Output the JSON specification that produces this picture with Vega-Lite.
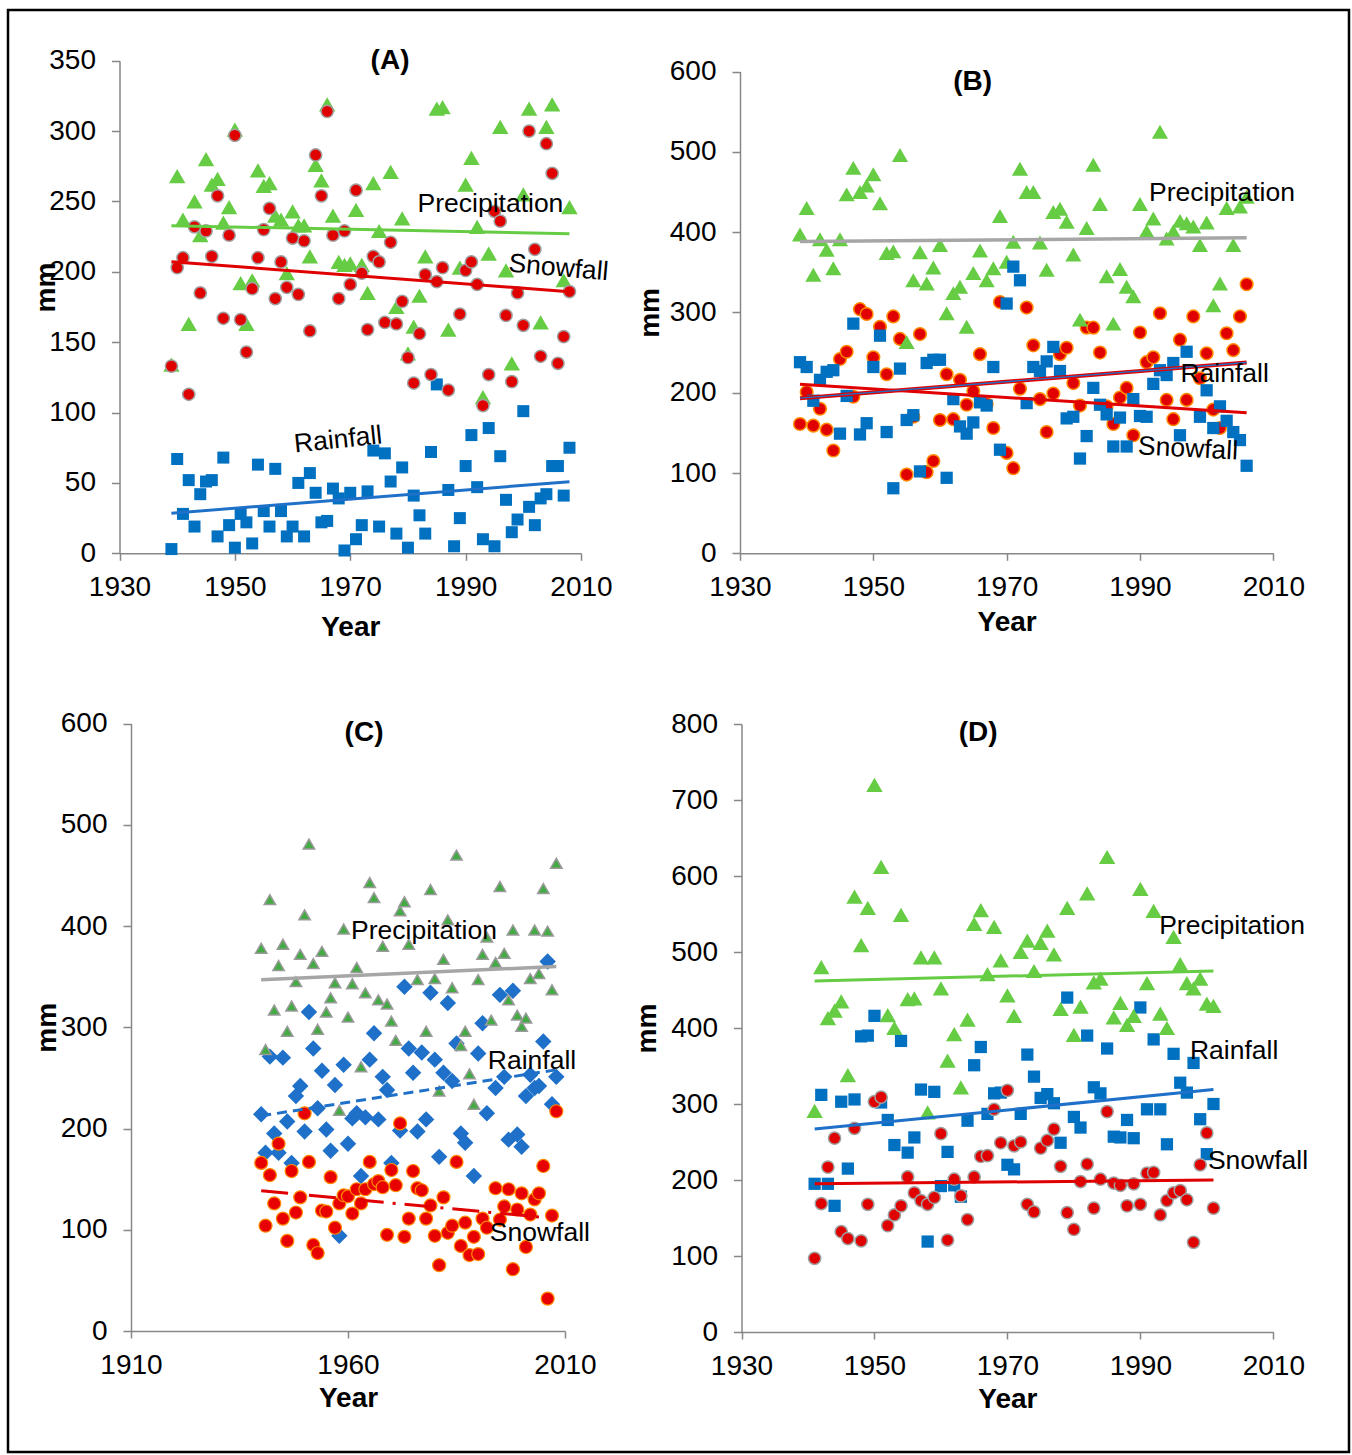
{
"$schema": "https://vega.github.io/schema/vega-lite/v6.json",
"width": 1341, "height": 1442,
"autosize": {"type": "none"},
"padding": {"left": 8, "top": 10, "right": 3, "bottom": 3},
"background": "white",
"config": {
 "font": "Liberation Sans",
 "view": {"stroke": "black", "strokeWidth": 2.5},
 "axis": {"grid": false, "domainColor": "#878787", "domainWidth": 1.5, "tickColor": "#878787", "tickWidth": 1.5, "labelFontSize": 28, "labelColor": "#000000", "labelFlush": false, "labelOverlap": false, "titleFontSize": 28, "titleFontWeight": "bold", "titleColor": "#000000"},
 "axisX": {"tickSize": 7, "labelPadding": 13},
 "axisY": {"tickSize": 8, "labelPadding": 16}
},
"datasets": {
 "A_P": [{"year":1939,"mm":134},{"year":1940,"mm":268},{"year":1941,"mm":237},{"year":1942,"mm":163},{"year":1943,"mm":250},{"year":1944,"mm":226},{"year":1945,"mm":280},{"year":1946,"mm":262},{"year":1947,"mm":266},{"year":1948,"mm":235},{"year":1949,"mm":246},{"year":1950,"mm":301},{"year":1951,"mm":192},{"year":1952,"mm":163},{"year":1953,"mm":194},{"year":1954,"mm":272},{"year":1955,"mm":261},{"year":1956,"mm":263},{"year":1957,"mm":240},{"year":1958,"mm":237},{"year":1959,"mm":199},{"year":1960,"mm":243},{"year":1961,"mm":233},{"year":1962,"mm":233},{"year":1963,"mm":211},{"year":1964,"mm":276},{"year":1965,"mm":265},{"year":1966,"mm":319},{"year":1967,"mm":240},{"year":1968,"mm":207},{"year":1969,"mm":205},{"year":1970,"mm":206},{"year":1971,"mm":244},{"year":1972,"mm":205},{"year":1973,"mm":185},{"year":1974,"mm":263},{"year":1975,"mm":229},{"year":1977,"mm":271},{"year":1978,"mm":175},{"year":1979,"mm":238},{"year":1980,"mm":142},{"year":1981,"mm":161},{"year":1982,"mm":183},{"year":1983,"mm":211},{"year":1985,"mm":316},{"year":1986,"mm":317},{"year":1987,"mm":159},{"year":1989,"mm":203},{"year":1990,"mm":262},{"year":1991,"mm":281},{"year":1992,"mm":232},{"year":1993,"mm":111},{"year":1994,"mm":213},{"year":1996,"mm":303},{"year":1997,"mm":201},{"year":1998,"mm":135},{"year":2000,"mm":255},{"year":2001,"mm":316},{"year":2003,"mm":164},{"year":2004,"mm":303},{"year":2005,"mm":319},{"year":2007,"mm":194},{"year":2008,"mm":246}],
 "A_S": [{"year":1939,"mm":133},{"year":1940,"mm":203},{"year":1941,"mm":210},{"year":1942,"mm":113},{"year":1943,"mm":232},{"year":1944,"mm":185},{"year":1945,"mm":229},{"year":1946,"mm":211},{"year":1947,"mm":254},{"year":1948,"mm":167},{"year":1949,"mm":226},{"year":1950,"mm":297},{"year":1951,"mm":166},{"year":1952,"mm":143},{"year":1953,"mm":188},{"year":1954,"mm":210},{"year":1955,"mm":230},{"year":1956,"mm":245},{"year":1957,"mm":181},{"year":1958,"mm":207},{"year":1959,"mm":189},{"year":1960,"mm":224},{"year":1961,"mm":184},{"year":1962,"mm":222},{"year":1963,"mm":158},{"year":1964,"mm":283},{"year":1965,"mm":254},{"year":1966,"mm":314},{"year":1967,"mm":226},{"year":1968,"mm":181},{"year":1969,"mm":229},{"year":1970,"mm":191},{"year":1971,"mm":258},{"year":1972,"mm":199},{"year":1973,"mm":159},{"year":1974,"mm":211},{"year":1975,"mm":207},{"year":1976,"mm":164},{"year":1977,"mm":221},{"year":1978,"mm":163},{"year":1979,"mm":179},{"year":1980,"mm":139},{"year":1981,"mm":121},{"year":1982,"mm":156},{"year":1983,"mm":198},{"year":1984,"mm":127},{"year":1985,"mm":193},{"year":1986,"mm":203},{"year":1987,"mm":116},{"year":1989,"mm":170},{"year":1990,"mm":201},{"year":1991,"mm":207},{"year":1992,"mm":191},{"year":1993,"mm":105},{"year":1994,"mm":127},{"year":1995,"mm":243},{"year":1996,"mm":236},{"year":1997,"mm":169},{"year":1998,"mm":122},{"year":1999,"mm":185},{"year":2000,"mm":162},{"year":2001,"mm":300},{"year":2002,"mm":216},{"year":2003,"mm":140},{"year":2004,"mm":291},{"year":2005,"mm":270},{"year":2006,"mm":135},{"year":2007,"mm":154},{"year":2008,"mm":186}],
 "A_R": [{"year":1939,"mm":3},{"year":1940,"mm":67},{"year":1941,"mm":28},{"year":1942,"mm":52},{"year":1943,"mm":19},{"year":1944,"mm":42},{"year":1945,"mm":51},{"year":1946,"mm":52},{"year":1947,"mm":12},{"year":1948,"mm":68},{"year":1949,"mm":20},{"year":1950,"mm":4},{"year":1951,"mm":28},{"year":1952,"mm":22},{"year":1953,"mm":7},{"year":1954,"mm":63},{"year":1955,"mm":30},{"year":1956,"mm":19},{"year":1957,"mm":60},{"year":1958,"mm":30},{"year":1959,"mm":12},{"year":1960,"mm":19},{"year":1961,"mm":50},{"year":1962,"mm":12},{"year":1963,"mm":57},{"year":1964,"mm":43},{"year":1965,"mm":22},{"year":1966,"mm":23},{"year":1967,"mm":46},{"year":1968,"mm":39},{"year":1969,"mm":2},{"year":1970,"mm":43},{"year":1971,"mm":10},{"year":1972,"mm":20},{"year":1973,"mm":44},{"year":1974,"mm":73},{"year":1975,"mm":19},{"year":1976,"mm":71},{"year":1977,"mm":51},{"year":1978,"mm":14},{"year":1979,"mm":61},{"year":1980,"mm":4},{"year":1981,"mm":41},{"year":1982,"mm":27},{"year":1983,"mm":14},{"year":1984,"mm":72},{"year":1985,"mm":120},{"year":1987,"mm":45},{"year":1988,"mm":5},{"year":1989,"mm":25},{"year":1990,"mm":62},{"year":1991,"mm":84},{"year":1992,"mm":47},{"year":1993,"mm":10},{"year":1994,"mm":89},{"year":1995,"mm":5},{"year":1996,"mm":69},{"year":1997,"mm":38},{"year":1998,"mm":15},{"year":1999,"mm":24},{"year":2000,"mm":101},{"year":2001,"mm":33},{"year":2002,"mm":20},{"year":2003,"mm":39},{"year":2004,"mm":42},{"year":2005,"mm":62},{"year":2006,"mm":62},{"year":2007,"mm":41},{"year":2008,"mm":75}],
 "B_P": [{"year":1939,"mm":397},{"year":1940,"mm":430},{"year":1941,"mm":347},{"year":1942,"mm":391},{"year":1943,"mm":378},{"year":1944,"mm":355},{"year":1945,"mm":391},{"year":1946,"mm":447},{"year":1947,"mm":480},{"year":1948,"mm":450},{"year":1949,"mm":458},{"year":1950,"mm":472},{"year":1951,"mm":436},{"year":1952,"mm":374},{"year":1953,"mm":376},{"year":1954,"mm":496},{"year":1955,"mm":263},{"year":1956,"mm":340},{"year":1957,"mm":375},{"year":1958,"mm":336},{"year":1959,"mm":356},{"year":1960,"mm":384},{"year":1961,"mm":299},{"year":1962,"mm":324},{"year":1963,"mm":332},{"year":1964,"mm":282},{"year":1965,"mm":349},{"year":1966,"mm":377},{"year":1967,"mm":340},{"year":1968,"mm":355},{"year":1969,"mm":420},{"year":1970,"mm":363},{"year":1971,"mm":388},{"year":1972,"mm":479},{"year":1973,"mm":450},{"year":1974,"mm":450},{"year":1975,"mm":387},{"year":1976,"mm":353},{"year":1977,"mm":425},{"year":1978,"mm":429},{"year":1979,"mm":413},{"year":1980,"mm":372},{"year":1981,"mm":291},{"year":1982,"mm":405},{"year":1983,"mm":484},{"year":1984,"mm":435},{"year":1985,"mm":345},{"year":1986,"mm":286},{"year":1987,"mm":354},{"year":1988,"mm":332},{"year":1989,"mm":320},{"year":1990,"mm":435},{"year":1991,"mm":401},{"year":1992,"mm":417},{"year":1993,"mm":525},{"year":1994,"mm":392},{"year":1995,"mm":401},{"year":1996,"mm":414},{"year":1997,"mm":411},{"year":1998,"mm":407},{"year":1999,"mm":384},{"year":2000,"mm":412},{"year":2001,"mm":309},{"year":2002,"mm":336},{"year":2003,"mm":430},{"year":2004,"mm":384},{"year":2005,"mm":432},{"year":2006,"mm":444}],
 "B_S": [{"year":1939,"mm":161},{"year":1940,"mm":201},{"year":1941,"mm":159},{"year":1942,"mm":180},{"year":1943,"mm":154},{"year":1944,"mm":128},{"year":1945,"mm":242},{"year":1946,"mm":251},{"year":1947,"mm":195},{"year":1948,"mm":304},{"year":1949,"mm":298},{"year":1950,"mm":244},{"year":1951,"mm":282},{"year":1952,"mm":223},{"year":1953,"mm":295},{"year":1954,"mm":267},{"year":1955,"mm":98},{"year":1956,"mm":170},{"year":1957,"mm":273},{"year":1958,"mm":101},{"year":1959,"mm":115},{"year":1960,"mm":166},{"year":1961,"mm":223},{"year":1962,"mm":167},{"year":1963,"mm":216},{"year":1964,"mm":185},{"year":1965,"mm":202},{"year":1966,"mm":248},{"year":1967,"mm":186},{"year":1968,"mm":156},{"year":1969,"mm":313},{"year":1970,"mm":125},{"year":1971,"mm":106},{"year":1972,"mm":205},{"year":1973,"mm":306},{"year":1974,"mm":259},{"year":1975,"mm":192},{"year":1976,"mm":151},{"year":1977,"mm":199},{"year":1978,"mm":248},{"year":1979,"mm":256},{"year":1980,"mm":212},{"year":1981,"mm":184},{"year":1982,"mm":281},{"year":1983,"mm":281},{"year":1984,"mm":250},{"year":1985,"mm":183},{"year":1986,"mm":161},{"year":1987,"mm":194},{"year":1988,"mm":206},{"year":1989,"mm":147},{"year":1990,"mm":275},{"year":1991,"mm":238},{"year":1992,"mm":244},{"year":1993,"mm":299},{"year":1994,"mm":191},{"year":1995,"mm":167},{"year":1996,"mm":266},{"year":1997,"mm":191},{"year":1998,"mm":295},{"year":1999,"mm":218},{"year":2000,"mm":249},{"year":2001,"mm":179},{"year":2002,"mm":156},{"year":2003,"mm":274},{"year":2004,"mm":253},{"year":2005,"mm":295},{"year":2006,"mm":335}],
 "B_R": [{"year":1939,"mm":238},{"year":1940,"mm":232},{"year":1941,"mm":190},{"year":1942,"mm":216},{"year":1943,"mm":226},{"year":1944,"mm":228},{"year":1945,"mm":149},{"year":1946,"mm":196},{"year":1947,"mm":286},{"year":1948,"mm":148},{"year":1949,"mm":162},{"year":1950,"mm":232},{"year":1951,"mm":271},{"year":1952,"mm":151},{"year":1953,"mm":81},{"year":1954,"mm":230},{"year":1955,"mm":166},{"year":1956,"mm":172},{"year":1957,"mm":102},{"year":1958,"mm":237},{"year":1959,"mm":241},{"year":1960,"mm":241},{"year":1961,"mm":94},{"year":1962,"mm":192},{"year":1963,"mm":158},{"year":1964,"mm":149},{"year":1965,"mm":163},{"year":1966,"mm":188},{"year":1967,"mm":184},{"year":1968,"mm":232},{"year":1969,"mm":129},{"year":1970,"mm":311},{"year":1971,"mm":357},{"year":1972,"mm":340},{"year":1973,"mm":187},{"year":1974,"mm":232},{"year":1975,"mm":227},{"year":1976,"mm":239},{"year":1977,"mm":257},{"year":1978,"mm":227},{"year":1979,"mm":168},{"year":1980,"mm":170},{"year":1981,"mm":118},{"year":1982,"mm":146},{"year":1983,"mm":206},{"year":1984,"mm":185},{"year":1985,"mm":173},{"year":1986,"mm":133},{"year":1987,"mm":169},{"year":1988,"mm":133},{"year":1989,"mm":192},{"year":1990,"mm":171},{"year":1991,"mm":170},{"year":1992,"mm":211},{"year":1993,"mm":228},{"year":1994,"mm":222},{"year":1995,"mm":237},{"year":1996,"mm":147},{"year":1997,"mm":251},{"year":1999,"mm":170},{"year":2000,"mm":203},{"year":2001,"mm":156},{"year":2002,"mm":183},{"year":2003,"mm":165},{"year":2004,"mm":151},{"year":2005,"mm":141},{"year":2006,"mm":109}],
 "C_P": [{"year":1940,"mm":378},{"year":1941,"mm":278},{"year":1942,"mm":426},{"year":1943,"mm":317},{"year":1944,"mm":361},{"year":1945,"mm":382},{"year":1946,"mm":296},{"year":1947,"mm":321},{"year":1948,"mm":345},{"year":1949,"mm":372},{"year":1950,"mm":411},{"year":1951,"mm":481},{"year":1952,"mm":363},{"year":1953,"mm":298},{"year":1954,"mm":375},{"year":1955,"mm":315},{"year":1956,"mm":329},{"year":1957,"mm":344},{"year":1958,"mm":218},{"year":1959,"mm":397},{"year":1960,"mm":310},{"year":1961,"mm":343},{"year":1962,"mm":359},{"year":1963,"mm":261},{"year":1964,"mm":334},{"year":1965,"mm":443},{"year":1966,"mm":428},{"year":1967,"mm":327},{"year":1968,"mm":380},{"year":1969,"mm":323},{"year":1970,"mm":306},{"year":1971,"mm":287},{"year":1972,"mm":415},{"year":1973,"mm":424},{"year":1974,"mm":382},{"year":1976,"mm":347},{"year":1978,"mm":296},{"year":1979,"mm":436},{"year":1980,"mm":348},{"year":1981,"mm":237},{"year":1982,"mm":367},{"year":1983,"mm":406},{"year":1984,"mm":339},{"year":1985,"mm":470},{"year":1986,"mm":282},{"year":1987,"mm":296},{"year":1988,"mm":254},{"year":1989,"mm":224},{"year":1990,"mm":347},{"year":1991,"mm":372},{"year":1992,"mm":389},{"year":1993,"mm":307},{"year":1994,"mm":364},{"year":1995,"mm":439},{"year":1996,"mm":373},{"year":1997,"mm":327},{"year":1998,"mm":396},{"year":1999,"mm":312},{"year":2000,"mm":301},{"year":2001,"mm":309},{"year":2002,"mm":348},{"year":2003,"mm":396},{"year":2004,"mm":353},{"year":2005,"mm":437},{"year":2006,"mm":395},{"year":2007,"mm":337},{"year":2008,"mm":462}],
 "C_R": [{"year":1940,"mm":214},{"year":1941,"mm":176},{"year":1942,"mm":271},{"year":1943,"mm":195},{"year":1944,"mm":176},{"year":1945,"mm":270},{"year":1946,"mm":207},{"year":1947,"mm":166},{"year":1948,"mm":232},{"year":1949,"mm":242},{"year":1950,"mm":197},{"year":1951,"mm":315},{"year":1952,"mm":279},{"year":1953,"mm":220},{"year":1954,"mm":257},{"year":1955,"mm":199},{"year":1956,"mm":178},{"year":1957,"mm":243},{"year":1958,"mm":94},{"year":1959,"mm":263},{"year":1960,"mm":185},{"year":1961,"mm":210},{"year":1962,"mm":215},{"year":1963,"mm":153},{"year":1964,"mm":211},{"year":1965,"mm":268},{"year":1966,"mm":294},{"year":1967,"mm":209},{"year":1968,"mm":251},{"year":1969,"mm":238},{"year":1970,"mm":166},{"year":1972,"mm":198},{"year":1973,"mm":340},{"year":1974,"mm":279},{"year":1975,"mm":255},{"year":1976,"mm":197},{"year":1977,"mm":275},{"year":1978,"mm":209},{"year":1979,"mm":334},{"year":1980,"mm":268},{"year":1981,"mm":172},{"year":1982,"mm":255},{"year":1983,"mm":324},{"year":1984,"mm":247},{"year":1985,"mm":284},{"year":1986,"mm":195},{"year":1987,"mm":186},{"year":1989,"mm":153},{"year":1990,"mm":274},{"year":1991,"mm":304},{"year":1992,"mm":215},{"year":1994,"mm":240},{"year":1995,"mm":332},{"year":1996,"mm":251},{"year":1997,"mm":189},{"year":1998,"mm":336},{"year":1999,"mm":194},{"year":2000,"mm":182},{"year":2001,"mm":232},{"year":2002,"mm":253},{"year":2003,"mm":240},{"year":2004,"mm":242},{"year":2005,"mm":286},{"year":2006,"mm":365},{"year":2007,"mm":224},{"year":2008,"mm":251}],
 "C_S": [{"year":1940,"mm":166},{"year":1941,"mm":104},{"year":1942,"mm":154},{"year":1943,"mm":126},{"year":1944,"mm":185},{"year":1945,"mm":111},{"year":1946,"mm":89},{"year":1947,"mm":158},{"year":1948,"mm":117},{"year":1949,"mm":132},{"year":1950,"mm":215},{"year":1951,"mm":167},{"year":1952,"mm":85},{"year":1953,"mm":77},{"year":1954,"mm":119},{"year":1955,"mm":118},{"year":1956,"mm":152},{"year":1957,"mm":102},{"year":1958,"mm":126},{"year":1959,"mm":134},{"year":1960,"mm":133},{"year":1961,"mm":116},{"year":1962,"mm":140},{"year":1963,"mm":126},{"year":1964,"mm":140},{"year":1965,"mm":167},{"year":1966,"mm":145},{"year":1967,"mm":148},{"year":1968,"mm":142},{"year":1969,"mm":95},{"year":1970,"mm":159},{"year":1971,"mm":144},{"year":1972,"mm":205},{"year":1973,"mm":93},{"year":1974,"mm":111},{"year":1975,"mm":158},{"year":1976,"mm":141},{"year":1977,"mm":139},{"year":1978,"mm":111},{"year":1979,"mm":124},{"year":1980,"mm":94},{"year":1981,"mm":65},{"year":1982,"mm":132},{"year":1983,"mm":97},{"year":1984,"mm":104},{"year":1985,"mm":167},{"year":1986,"mm":84},{"year":1987,"mm":107},{"year":1988,"mm":75},{"year":1989,"mm":93},{"year":1990,"mm":76},{"year":1991,"mm":111},{"year":1992,"mm":102},{"year":1994,"mm":141},{"year":1995,"mm":110},{"year":1996,"mm":123},{"year":1997,"mm":140},{"year":1998,"mm":61},{"year":1999,"mm":120},{"year":2000,"mm":136},{"year":2001,"mm":83},{"year":2002,"mm":115},{"year":2003,"mm":130},{"year":2004,"mm":136},{"year":2005,"mm":163},{"year":2006,"mm":32},{"year":2007,"mm":114},{"year":2008,"mm":217}],
 "D_P": [{"year":1941,"mm":291},{"year":1942,"mm":480},{"year":1943,"mm":413},{"year":1944,"mm":423},{"year":1945,"mm":435},{"year":1946,"mm":338},{"year":1947,"mm":573},{"year":1948,"mm":509},{"year":1949,"mm":558},{"year":1950,"mm":720},{"year":1951,"mm":612},{"year":1952,"mm":417},{"year":1953,"mm":400},{"year":1954,"mm":549},{"year":1955,"mm":438},{"year":1956,"mm":439},{"year":1957,"mm":493},{"year":1958,"mm":289},{"year":1959,"mm":493},{"year":1960,"mm":452},{"year":1961,"mm":357},{"year":1962,"mm":392},{"year":1963,"mm":322},{"year":1964,"mm":411},{"year":1965,"mm":537},{"year":1966,"mm":555},{"year":1967,"mm":471},{"year":1968,"mm":533},{"year":1969,"mm":489},{"year":1970,"mm":443},{"year":1971,"mm":416},{"year":1972,"mm":500},{"year":1973,"mm":515},{"year":1974,"mm":475},{"year":1975,"mm":512},{"year":1976,"mm":528},{"year":1977,"mm":497},{"year":1978,"mm":425},{"year":1979,"mm":558},{"year":1980,"mm":391},{"year":1981,"mm":428},{"year":1982,"mm":577},{"year":1983,"mm":460},{"year":1984,"mm":465},{"year":1985,"mm":625},{"year":1986,"mm":414},{"year":1987,"mm":433},{"year":1988,"mm":404},{"year":1989,"mm":416},{"year":1990,"mm":583},{"year":1991,"mm":459},{"year":1992,"mm":554},{"year":1993,"mm":419},{"year":1994,"mm":400},{"year":1995,"mm":520},{"year":1996,"mm":484},{"year":1997,"mm":459},{"year":1998,"mm":452},{"year":1999,"mm":465},{"year":2000,"mm":432},{"year":2001,"mm":429}],
 "D_R": [{"year":1941,"mm":195},{"year":1942,"mm":312},{"year":1943,"mm":195},{"year":1944,"mm":166},{"year":1945,"mm":303},{"year":1946,"mm":215},{"year":1947,"mm":306},{"year":1948,"mm":389},{"year":1949,"mm":390},{"year":1950,"mm":416},{"year":1951,"mm":302},{"year":1952,"mm":279},{"year":1953,"mm":246},{"year":1954,"mm":383},{"year":1955,"mm":236},{"year":1956,"mm":256},{"year":1957,"mm":319},{"year":1958,"mm":119},{"year":1959,"mm":316},{"year":1960,"mm":192},{"year":1961,"mm":237},{"year":1962,"mm":193},{"year":1963,"mm":178},{"year":1964,"mm":278},{"year":1965,"mm":351},{"year":1966,"mm":375},{"year":1967,"mm":287},{"year":1968,"mm":314},{"year":1969,"mm":315},{"year":1970,"mm":220},{"year":1971,"mm":214},{"year":1972,"mm":287},{"year":1973,"mm":365},{"year":1974,"mm":336},{"year":1975,"mm":308},{"year":1976,"mm":313},{"year":1977,"mm":301},{"year":1978,"mm":249},{"year":1979,"mm":440},{"year":1980,"mm":283},{"year":1981,"mm":269},{"year":1982,"mm":390},{"year":1983,"mm":322},{"year":1984,"mm":314},{"year":1985,"mm":373},{"year":1986,"mm":257},{"year":1987,"mm":256},{"year":1988,"mm":279},{"year":1989,"mm":255},{"year":1990,"mm":427},{"year":1991,"mm":293},{"year":1992,"mm":385},{"year":1993,"mm":293},{"year":1994,"mm":247},{"year":1995,"mm":366},{"year":1996,"mm":328},{"year":1997,"mm":315},{"year":1998,"mm":354},{"year":1999,"mm":280},{"year":2000,"mm":234},{"year":2001,"mm":300}],
 "D_S": [{"year":1941,"mm":97},{"year":1942,"mm":169},{"year":1943,"mm":217},{"year":1944,"mm":255},{"year":1945,"mm":132},{"year":1946,"mm":123},{"year":1947,"mm":268},{"year":1948,"mm":120},{"year":1949,"mm":168},{"year":1950,"mm":303},{"year":1951,"mm":309},{"year":1952,"mm":140},{"year":1953,"mm":154},{"year":1954,"mm":166},{"year":1955,"mm":204},{"year":1956,"mm":183},{"year":1957,"mm":173},{"year":1958,"mm":168},{"year":1959,"mm":177},{"year":1960,"mm":261},{"year":1961,"mm":121},{"year":1962,"mm":201},{"year":1963,"mm":179},{"year":1964,"mm":148},{"year":1965,"mm":204},{"year":1966,"mm":231},{"year":1967,"mm":232},{"year":1968,"mm":293},{"year":1969,"mm":249},{"year":1970,"mm":318},{"year":1971,"mm":245},{"year":1972,"mm":250},{"year":1973,"mm":168},{"year":1974,"mm":158},{"year":1975,"mm":242},{"year":1976,"mm":252},{"year":1977,"mm":267},{"year":1978,"mm":218},{"year":1979,"mm":157},{"year":1980,"mm":135},{"year":1981,"mm":198},{"year":1982,"mm":221},{"year":1983,"mm":163},{"year":1984,"mm":201},{"year":1985,"mm":290},{"year":1986,"mm":196},{"year":1987,"mm":193},{"year":1988,"mm":166},{"year":1989,"mm":195},{"year":1990,"mm":168},{"year":1991,"mm":209},{"year":1992,"mm":210},{"year":1993,"mm":154},{"year":1994,"mm":173},{"year":1995,"mm":183},{"year":1996,"mm":186},{"year":1997,"mm":174},{"year":1998,"mm":118},{"year":1999,"mm":220},{"year":2000,"mm":262},{"year":2001,"mm":163}],
 "trend": [
  {"panel":"A","series":"P","year":1939,"mm":232.8},{"panel":"A","series":"P","year":2008,"mm":227},
  {"panel":"A","series":"S","year":1939,"mm":207.2},{"panel":"A","series":"S","year":2008,"mm":185.9},
  {"panel":"A","series":"R","year":1939,"mm":28.4},{"panel":"A","series":"R","year":2008,"mm":50.9},
  {"panel":"B","series":"P","year":1939,"mm":388.2},{"panel":"B","series":"P","year":2006,"mm":393},
  {"panel":"B","series":"S","year":1939,"mm":210.4},{"panel":"B","series":"S","year":2006,"mm":175},
  {"panel":"B","series":"R","year":1939,"mm":193.2},{"panel":"B","series":"R","year":2006,"mm":237.6},
  {"panel":"C","series":"P","year":1940,"mm":347},{"panel":"C","series":"P","year":2008,"mm":360},
  {"panel":"C","series":"R","year":1940,"mm":212.5},{"panel":"C","series":"R","year":2008,"mm":258},
  {"panel":"C","series":"S","year":1940,"mm":138.5},{"panel":"C","series":"S","year":2008,"mm":111},
  {"panel":"D","series":"P","year":1941,"mm":462},{"panel":"D","series":"P","year":2001,"mm":475},
  {"panel":"D","series":"R","year":1941,"mm":267},{"panel":"D","series":"R","year":2001,"mm":319},
  {"panel":"D","series":"S","year":1941,"mm":195},{"panel":"D","series":"S","year":2001,"mm":200}
 ],
 "notes": [
  {"panel":"A","kind":"title","label":"(A)","year":1976.9,"mm":350},
  {"panel":"A","kind":"note","label":"Precipitation","year":1994.3,"mm":248},
  {"panel":"A","kind":"tiltdown","label":"Snowfall","year":2006.1,"mm":202.7},
  {"panel":"A","kind":"tiltup","label":"Rainfall","year":1967.9,"mm":80.5},
  {"panel":"B","kind":"title","label":"(B)","year":1964.9,"mm":587},
  {"panel":"B","kind":"note","label":"Precipitation","year":2002.3,"mm":449},
  {"panel":"B","kind":"note","label":"Rainfall","year":2002.7,"mm":223.5},
  {"panel":"B","kind":"tiltslight","label":"Snowfall","year":1997.2,"mm":130},
  {"panel":"C","kind":"title","label":"(C)","year":1963.7,"mm":591},
  {"panel":"C","kind":"note","label":"Precipitation","year":1977.5,"mm":395.4},
  {"panel":"C","kind":"note","label":"Rainfall","year":2002.4,"mm":266.9},
  {"panel":"C","kind":"note","label":"Snowfall","year":2004.2,"mm":96.9},
  {"panel":"D","kind":"title","label":"(D)","year":1965.6,"mm":788},
  {"panel":"D","kind":"note","label":"Precipitation","year":2003.8,"mm":534},
  {"panel":"D","kind":"note","label":"Rainfall","year":2004.1,"mm":370},
  {"panel":"D","kind":"note","label":"Snowfall","year":2007.7,"mm":225}
 ]
},
"layer": [
 {
  "encoding": {
   "x": {"field":"year","type":"quantitative","scale":{"domain":[1930,2010],"range":[111.5,573],"nice":false,"zero":false},"axis":{"orient":"bottom","offset":-898.7,"values":[1930,1950,1970,1990,2010],"format":"d","title":"Year","titlePadding":12}},
   "y": {"field":"mm","type":"quantitative","scale":{"domain":[0,350],"range":[543.3,50.7],"nice":false},"axis":{"orient":"left","offset":-111.5,"values":[0,50,100,150,200,250,300,350],"title":"mm","titlePadding":-12,"titleY":277}}
  },
  "layer": [
   {"data":{"name":"A_P"},"mark":{"type":"point","shape":"triangle-up","filled":true,"fill":"#66CC44","size":270,"opacity":1}},
   {"data":{"name":"A_R"},"mark":{"type":"point","shape":"square","filled":true,"fill":"#0070C0","size":144,"opacity":1}},
   {"data":{"name":"A_S"},"mark":{"type":"point","shape":"circle","filled":true,"fill":"#E00000","stroke":"#A0A0A0","strokeWidth":1.5,"size":150,"opacity":1}},
   {"data":{"name":"trend"},"transform":[{"filter":"datum.panel==='A' && datum.series==='P'"}],"mark":{"type":"line","color":"#66CC44","strokeWidth":3},"encoding":{}},
   {"data":{"name":"trend"},"transform":[{"filter":"datum.panel==='A' && datum.series==='S'"}],"mark":{"type":"line","color":"#E00000","strokeWidth":3},"encoding":{}},
   {"data":{"name":"trend"},"transform":[{"filter":"datum.panel==='A' && datum.series==='R'"}],"mark":{"type":"line","color":"#1F70C8","strokeWidth":3},"encoding":{}},
   {"data":{"name":"notes"},"transform":[{"filter":"datum.panel==='A' && datum.kind==='title'"}],"mark":{"type":"text","fontSize":28,"fontWeight":"bold","color":"#000000"},"encoding":{"text":{"field":"label"}}},
   {"data":{"name":"notes"},"transform":[{"filter":"datum.panel==='A' && datum.kind==='note'"}],"mark":{"type":"text","fontSize":26.5,"color":"#000000"},"encoding":{"text":{"field":"label"}}},
   {"data":{"name":"notes"},"transform":[{"filter":"datum.panel==='A' && datum.kind==='tiltdown'"}],"mark":{"type":"text","fontSize":26.5,"color":"#000000","angle":5},"encoding":{"text":{"field":"label"}}},
   {"data":{"name":"notes"},"transform":[{"filter":"datum.panel==='A' && datum.kind==='tiltup'"}],"mark":{"type":"text","fontSize":26.5,"color":"#000000","angle":354},"encoding":{"text":{"field":"label"}}}
  ]
 },
 {
  "encoding": {
   "x": {"field":"year","type":"quantitative","scale":{"domain":[1930,2010],"range":[732,1265.3],"nice":false,"zero":false},"axis":{"orient":"bottom","offset":-898.7,"values":[1930,1950,1970,1990,2010],"format":"d","title":"Year","titlePadding":7}},
   "y": {"field":"mm","type":"quantitative","scale":{"domain":[0,600],"range":[543.3,61.5],"nice":false},"axis":{"orient":"left","offset":-732,"values":[0,100,200,300,400,500,600],"title":"mm","titlePadding":5}}
  },
  "layer": [
   {"data":{"name":"B_S"},"mark":{"type":"point","shape":"circle","filled":true,"fill":"#E00000","stroke":"#FF8A00","strokeWidth":1.5,"size":160,"opacity":1}},
   {"data":{"name":"B_P"},"mark":{"type":"point","shape":"triangle-up","filled":true,"fill":"#66CC44","size":260,"opacity":1}},
   {"data":{"name":"B_R"},"mark":{"type":"point","shape":"square","filled":true,"fill":"#0070C0","size":150,"opacity":1}},
   {"data":{"name":"trend"},"transform":[{"filter":"datum.panel==='B' && datum.series==='P'"}],"mark":{"type":"line","color":"#A6A6A6","strokeWidth":3.5},"encoding":{}},
   {"data":{"name":"trend"},"transform":[{"filter":"datum.panel==='B' && datum.series==='S'"}],"mark":{"type":"line","color":"#E00000","strokeWidth":3},"encoding":{}},
   {"data":{"name":"trend"},"transform":[{"filter":"datum.panel==='B' && datum.series==='R'"}],"mark":{"type":"line","color":"#E00000","strokeWidth":4},"encoding":{}},
   {"data":{"name":"trend"},"transform":[{"filter":"datum.panel==='B' && datum.series==='R'"}],"mark":{"type":"line","color":"#1F70C8","strokeWidth":1.3},"encoding":{}},
   {"data":{"name":"notes"},"transform":[{"filter":"datum.panel==='B' && datum.kind==='title'"}],"mark":{"type":"text","fontSize":28,"fontWeight":"bold","color":"#000000"},"encoding":{"text":{"field":"label"}}},
   {"data":{"name":"notes"},"transform":[{"filter":"datum.panel==='B' && datum.kind==='note'"}],"mark":{"type":"text","fontSize":26.5,"color":"#000000"},"encoding":{"text":{"field":"label"}}},
   {"data":{"name":"notes"},"transform":[{"filter":"datum.panel==='B' && datum.kind==='tiltslight'"}],"mark":{"type":"text","fontSize":26.5,"color":"#000000","angle":3},"encoding":{"text":{"field":"label"}}}
  ]
 },
 {
  "encoding": {
   "x": {"field":"year","type":"quantitative","scale":{"domain":[1910,2010],"range":[123,557],"nice":false,"zero":false},"axis":{"orient":"bottom","offset":-121,"values":[1910,1960,2010],"format":"d","title":"Year","titlePadding":5}},
   "y": {"field":"mm","type":"quantitative","scale":{"domain":[0,600],"range":[1321,713.5],"nice":false},"axis":{"orient":"left","offset":-123,"values":[0,100,200,300,400,500,600],"title":"mm","titlePadding":-1}}
  },
  "layer": [
   {"data":{"name":"C_R"},"mark":{"type":"point","shape":"diamond","filled":true,"fill":"#1F70C8","size":270,"opacity":1}},
   {"data":{"name":"C_S"},"mark":{"type":"point","shape":"circle","filled":true,"fill":"#E80000","stroke":"#FF8A00","strokeWidth":1.2,"size":170,"opacity":1}},
   {"data":{"name":"C_P"},"mark":{"type":"point","shape":"triangle-up","filled":true,"fill":"#44AA44","stroke":"#9A9A9A","strokeWidth":1.5,"size":130,"opacity":1}},
   {"data":{"name":"trend"},"transform":[{"filter":"datum.panel==='C' && datum.series==='P'"}],"mark":{"type":"line","color":"#A6A6A6","strokeWidth":3.5},"encoding":{}},
   {"data":{"name":"trend"},"transform":[{"filter":"datum.panel==='C' && datum.series==='R'"}],"mark":{"type":"line","color":"#1F70C8","strokeWidth":3,"strokeDash":[10,6]},"encoding":{}},
   {"data":{"name":"trend"},"transform":[{"filter":"datum.panel==='C' && datum.series==='S'"}],"mark":{"type":"line","color":"#E00000","strokeWidth":3,"strokeDash":[27,9,3,9]},"encoding":{}},
   {"data":{"name":"notes"},"transform":[{"filter":"datum.panel==='C' && datum.kind==='title'"}],"mark":{"type":"text","fontSize":28,"fontWeight":"bold","color":"#000000"},"encoding":{"text":{"field":"label"}}},
   {"data":{"name":"notes"},"transform":[{"filter":"datum.panel==='C' && datum.kind==='note'"}],"mark":{"type":"text","fontSize":26.5,"color":"#000000"},"encoding":{"text":{"field":"label"}}}
  ]
 },
 {
  "encoding": {
   "x": {"field":"year","type":"quantitative","scale":{"domain":[1930,2010],"range":[733.5,1265.3],"nice":false,"zero":false},"axis":{"orient":"bottom","offset":-120,"values":[1930,1950,1970,1990,2010],"format":"d","title":"Year","titlePadding":5}},
   "y": {"field":"mm","type":"quantitative","scale":{"domain":[0,800],"range":[1322,714],"nice":false},"axis":{"orient":"left","offset":-733.5,"values":[0,100,200,300,400,500,600,700,800],"title":"mm","titlePadding":9}}
  },
  "layer": [
   {"data":{"name":"D_R"},"mark":{"type":"point","shape":"square","filled":true,"fill":"#0070C0","size":150,"opacity":1}},
   {"data":{"name":"D_S"},"mark":{"type":"point","shape":"circle","filled":true,"fill":"#E00000","stroke":"#A0A0A0","strokeWidth":1.5,"size":150,"opacity":1}},
   {"data":{"name":"D_P"},"mark":{"type":"point","shape":"triangle-up","filled":true,"fill":"#66CC44","size":270,"opacity":1}},
   {"data":{"name":"trend"},"transform":[{"filter":"datum.panel==='D' && datum.series==='P'"}],"mark":{"type":"line","color":"#66CC44","strokeWidth":3},"encoding":{}},
   {"data":{"name":"trend"},"transform":[{"filter":"datum.panel==='D' && datum.series==='R'"}],"mark":{"type":"line","color":"#1F70C8","strokeWidth":3},"encoding":{}},
   {"data":{"name":"trend"},"transform":[{"filter":"datum.panel==='D' && datum.series==='S'"}],"mark":{"type":"line","color":"#E00000","strokeWidth":3},"encoding":{}},
   {"data":{"name":"notes"},"transform":[{"filter":"datum.panel==='D' && datum.kind==='title'"}],"mark":{"type":"text","fontSize":28,"fontWeight":"bold","color":"#000000"},"encoding":{"text":{"field":"label"}}},
   {"data":{"name":"notes"},"transform":[{"filter":"datum.panel==='D' && datum.kind==='note'"}],"mark":{"type":"text","fontSize":26.5,"color":"#000000"},"encoding":{"text":{"field":"label"}}}
  ]
 }
],
"resolve": {"scale": {"x": "independent", "y": "independent"}}
}
